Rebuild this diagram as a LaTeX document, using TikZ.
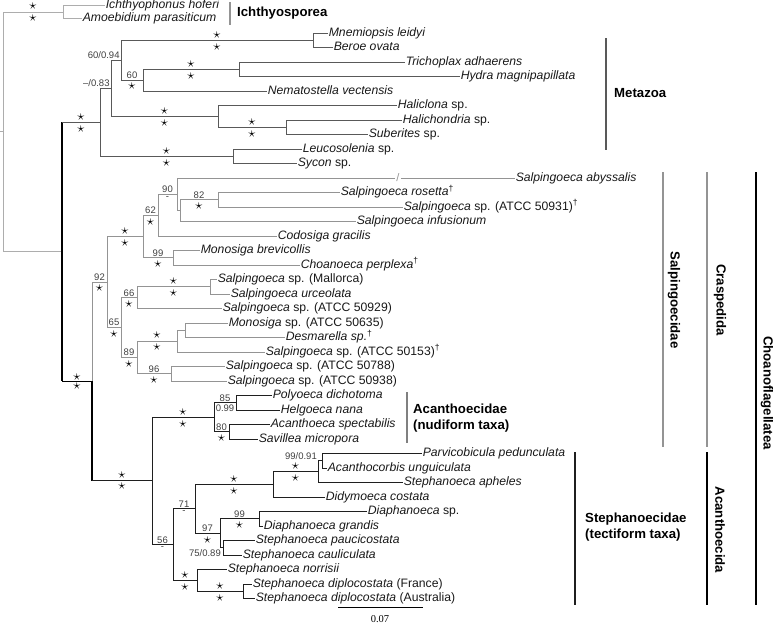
\documentclass[tikz,border=0pt]{standalone}
\usepackage{fontspec}
\setmainfont{Liberation Sans}
\newfontfamily\scalefont{Liberation Serif}
\usetikzlibrary{calc}

\definecolor{ichgray}{gray}{0.68}
\definecolor{metgray}{gray}{0.35}
\definecolor{cragray}{gray}{0.58}
\definecolor{acagray}{gray}{0.12}
\definecolor{supgray}{gray}{0.25}

\begin{document}
\begin{tikzpicture}[x=1pt, y=-1pt,
    br/.style={line width=0.9pt},
    ich/.style={br, draw=ichgray},
    met/.style={br, draw=metgray},
    cra/.style={br, draw=cragray},
    aca/.style={br, draw=acagray},
    bb/.style={line width=1.6pt, draw=black},
    leaf/.style={anchor=west, inner sep=0.6pt, text=black!90, font=\fontsize{12.2}{14}\selectfont\itshape, text height=8.7pt, text depth=2.6pt},
    sa/.style={pos=.75, yshift=5.5pt, inner sep=0pt, font=\fontsize{14}{14}\selectfont},
    sb/.style={pos=.75, yshift=-6.5pt, inner sep=0pt, font=\fontsize{14}{14}\selectfont},
    la/.style={pos=.75, anchor=south, inner sep=1pt, text=supgray, font=\fontsize{9.5}{10}\selectfont},
    lb/.style={pos=.75, anchor=north, inner sep=1.6pt, text=supgray, font=\fontsize{9.5}{10}\selectfont},
    lc/.style={pos=1, anchor=south east, inner sep=1pt, text=supgray, font=\fontsize{9.5}{10}\selectfont},
    bar/.style={line width=2.4pt},
    clade/.style={anchor=west, inner sep=0pt, align=left, font=\fontsize{13.2}{16.5}\selectfont\bfseries},
    rot/.style={rotate=-90, inner sep=0pt, font=\fontsize{13.2}{16}\selectfont\bfseries}]
\useasboundingbox (0,0) rectangle (773,624);

% internal nodes
\coordinate (root) at (3,131.8);
\coordinate (ich) at (63,12);
\coordinate (hol) at (62,251.86);
\coordinate (met) at (100,122.27);
\coordinate (m1) at (111,88.28);
\coordinate (m2) at (121,60.19);
\coordinate (cten) at (313,40.25);
\coordinate (m3) at (143,80.13);
\coordinate (cnid) at (239,69.25);
\coordinate (demo) at (218,116.38);
\coordinate (hal) at (286,127.25);
\coordinate (calc) at (233,156.25);
\coordinate (cho) at (92,381.45);
\coordinate (cra) at (107,281.99);
\coordinate (c1) at (143,236.45);
\coordinate (c2) at (158,215.16);
\coordinate (c3) at (177,194.31);
\coordinate (c3b) at (180,210.63);
\coordinate (c3c) at (218,199.75);
\coordinate (c4) at (173,257.75);
\coordinate (c5) at (121,327.53);
\coordinate (c6) at (137,297.63);
\coordinate (c7) at (210,286.75);
\coordinate (c8) at (137,357.44);
\coordinate (c9) at (177,341.13);
\coordinate (c10) at (185,330.25);
\coordinate (c11) at (171,373.75);
\coordinate (aca) at (152,480.9);
\coordinate (a1) at (214,417.25);
\coordinate (a2) at (236,402.75);
\coordinate (a3) at (229,431.75);
\coordinate (a11) at (173,544.6);
\coordinate (a7) at (195,508.8);
\coordinate (a4) at (273,484.3);
\coordinate (a5) at (318,471.6);
\coordinate (a6) at (322,460.75);
\coordinate (a8) at (220,533.25);
\coordinate (a9) at (259,518.75);
\coordinate (a10) at (223,547.75);
\coordinate (a12) at (197,580.4);
\coordinate (a13) at (243,591.25);

% leaves
\node[leaf] (ihof) at (105,5.5) {Ichthyophonus hoferi};
\node[leaf] (apar) at (82,18.5) {Amoebidium parasiticum};
\node[leaf] (mlei) at (328,33) {Mnemiopsis leidyi};
\node[leaf] (bova) at (333,47.5) {Beroe ovata};
\node[leaf] (tadh) at (405,62) {Trichoplax adhaerens};
\node[leaf] (hmag) at (460,76.5) {Hydra magnipapillata};
\node[leaf] (nvec) at (267,91) {Nematostella vectensis};
\node[leaf] (hali) at (397,105.5) {Haliclona {\upshape sp.}};
\node[leaf] (halc) at (402,120) {Halichondria {\upshape sp.}};
\node[leaf] (sube) at (368,134.5) {Suberites {\upshape sp.}};
\node[leaf] (leuc) at (302,149) {Leucosolenia {\upshape sp.}};
\node[leaf] (syco) at (297,163.5) {Sycon {\upshape sp.}};
\node[leaf] (saby) at (515,178) {Salpingoeca abyssalis};
\node[leaf] (sros) at (340,192.5) {Salpingoeca rosetta\textsuperscript{\upshape †}};
\node[leaf] (s931) at (403,207) {Salpingoeca {\upshape sp. (ATCC 50931)\textsuperscript{†}}};
\node[leaf] (sinf) at (356,221.5) {Salpingoeca infusionum};
\node[leaf] (cgra) at (277,236) {Codosiga gracilis};
\node[leaf] (mbre) at (200,250.5) {Monosiga brevicollis};
\node[leaf] (cper) at (300,265) {Choanoeca perplexa\textsuperscript{\upshape †}};
\node[leaf] (smal) at (217,279.5) {Salpingoeca {\upshape sp. (Mallorca)}};
\node[leaf] (surc) at (230,294) {Salpingoeca urceolata};
\node[leaf] (s929) at (222,308.5) {Salpingoeca {\upshape sp. (ATCC 50929)}};
\node[leaf] (m635) at (228,323) {Monosiga {\upshape sp. (ATCC 50635)}};
\node[leaf] (desm) at (285,337.5) {Desmarella sp.\textsuperscript{\upshape †}};
\node[leaf] (s153) at (265,352) {Salpingoeca {\upshape sp. (ATCC 50153)\textsuperscript{†}}};
\node[leaf] (s788) at (225,366.5) {Salpingoeca {\upshape sp. (ATCC 50788)}};
\node[leaf] (s938) at (227,381) {Salpingoeca {\upshape sp. (ATCC 50938)}};
\node[leaf] (pdic) at (272,395.5) {Polyoeca dichotoma};
\node[leaf] (hnan) at (280,410) {Helgoeca nana};
\node[leaf] (aspe) at (270,424.5) {Acanthoeca spectabilis};
\node[leaf] (smic) at (258,439) {Savillea micropora};
\node[leaf] (pped) at (422,453.5) {Parvicobicula pedunculata};
\node[leaf] (aung) at (327,468) {Acanthocorbis unguiculata};
\node[leaf] (saph) at (403,482.5) {Stephanoeca apheles};
\node[leaf] (dcos) at (325,497) {Didymoeca costata};
\node[leaf] (dsp) at (367,511.5) {Diaphanoeca {\upshape sp.}};
\node[leaf] (dgra) at (263,526) {Diaphanoeca grandis};
\node[leaf] (spau) at (255,540.5) {Stephanoeca paucicostata};
\node[leaf] (scau) at (242,555) {Stephanoeca cauliculata};
\node[leaf] (snor) at (227,569.5) {Stephanoeca norrisii};
\node[leaf] (sfra) at (252,584) {Stephanoeca diplocostata {\upshape (France)}};
\node[leaf] (saus) at (255,598.5) {Stephanoeca diplocostata {\upshape (Australia)}};

% root and Ichthyosporea
\draw[ich] (0,131.8) -- (root);
\draw[ich] (root) |- (ich) node[sa]{$\star$} node[sb]{$\star$};
\draw[ich] (root) |- (hol);
\draw[ich] (ich) |- (ihof.west);
\draw[ich] (ich) |- (apar.west);

% backbone
\draw[bb] (met -| hol) -- (cho -| hol);
\draw[bb] (cho -| hol) -- (cho) node[pos=.5, yshift=4pt, inner sep=0pt, font=\fontsize{14}{14}\selectfont]{$\star$}
  node[pos=.5, yshift=-5pt, inner sep=0pt, font=\fontsize{14}{14}\selectfont]{$\star$};

% Metazoa
\draw[met] (met -| hol) -- (met) node[pos=.5, yshift=5.5pt, inner sep=0pt, font=\fontsize{14}{14}\selectfont]{$\star$}
  node[pos=.5, yshift=-6.5pt, inner sep=0pt, font=\fontsize{14}{14}\selectfont]{$\star$};
\draw[met] (met) |- (m1) node[lc]{--/0.83};
\draw[met] (met) |- (calc) node[sa]{$\star$} node[sb]{$\star$};
\draw[met] (m1) |- (m2) node[lc]{60/0.94};
\draw[met] (m1) |- (demo) node[sa]{$\star$} node[sb]{$\star$};
\draw[met] (m2) |- (cten) node[sa]{$\star$} node[sb]{$\star$};
\draw[met] (m2) |- (m3) node[la]{60} node[sb]{$\star$};
\draw[met] (cten) |- (mlei.west);
\draw[met] (cten) |- (bova.west);
\draw[met] (m3) |- (cnid) node[sa]{$\star$} node[sb]{$\star$};
\draw[met] (m3) |- (nvec.west);
\draw[met] (cnid) |- (tadh.west);
\draw[met] (cnid) |- (hmag.west);
\draw[met] (demo) |- (hali.west);
\draw[met] (demo) |- (hal) node[sa]{$\star$} node[sb]{$\star$};
\draw[met] (hal) |- (halc.west);
\draw[met] (hal) |- (sube.west);
\draw[met] (calc) |- (leuc.west);
\draw[met] (calc) |- (syco.west);

% Craspedida
\draw[cra] (cho) |- (cra) node[la]{92} node[sb]{$\star$};
\draw[cra] (cra) |- (c1) node[sa]{$\star$} node[sb]{$\star$};
\draw[cra] (cra) |- (c5) node[la]{65} node[sb]{$\star$};
\draw[cra] (c1) |- (c2) node[la]{62} node[sb]{$\star$};
\draw[cra] (c1) |- (c4) node[la]{99} node[sb]{$\star$};
\draw[cra] (c2) |- (c3) node[la]{90} node[lb]{-};
\draw[cra] (c2) |- (cgra.west);
\node[inner sep=1.2pt, text=cragray, font=\fontsize{11}{12}\selectfont] (brk) at (398,178) {/};
\draw[cra] (c3) |- (brk.west);
\draw[cra] (brk.east) -- (saby.west);
\draw[cra] (c3) |- (c3b);
\draw[cra] (c3b) |- (c3c) node[la]{82} node[sb]{$\star$};
\draw[cra] (c3b) |- (sinf.west);
\draw[cra] (c3c) |- (sros.west);
\draw[cra] (c3c) |- (s931.west);
\draw[cra] (c4) |- (mbre.west);
\draw[cra] (c4) |- (cper.west);
\draw[cra] (c5) |- (c6) node[la]{66} node[sb]{$\star$};
\draw[cra] (c5) |- (c8) node[la]{89} node[sb]{$\star$};
\draw[cra] (c6) |- (c7) node[sa]{$\star$} node[sb]{$\star$};
\draw[cra] (c6) |- (s929.west);
\draw[cra] (c7) |- (smal.west);
\draw[cra] (c7) |- (surc.west);
\draw[cra] (c8) |- (c9) node[sa]{$\star$} node[sb]{$\star$};
\draw[cra] (c8) |- (c11) node[la]{96} node[sb]{$\star$};
\draw[cra] (c9) |- (c10);
\draw[cra] (c9) |- (s153.west);
\draw[cra] (c10) |- (m635.west);
\draw[cra] (c10) |- (desm.west);
\draw[cra] (c11) |- (s788.west);
\draw[cra] (c11) |- (s938.west);

% Acanthoecida
\draw[bb] (cho) -- (cho |- aca);
\draw[aca] (cho |- aca) -- (aca) node[pos=.5, yshift=5.5pt, inner sep=0pt, font=\fontsize{14}{14}\selectfont]{$\star$}
  node[pos=.5, yshift=-5pt, inner sep=0pt, font=\fontsize{14}{14}\selectfont]{$\star$};
\draw[aca] (aca) |- (a1) node[sa]{$\star$} node[sb]{$\star$};
\draw[aca] (aca) |- (a11) node[la]{56} node[lb]{-};
\draw[aca] (a1) |- (a2) node[la]{85} node[lb]{0.99};
\draw[aca] (a1) |- (a3) node[la]{80} node[sb]{$\star$};
\draw[aca] (a2) |- (pdic.west);
\draw[aca] (a2) |- (hnan.west);
\draw[aca] (a3) |- (aspe.west);
\draw[aca] (a3) |- (smic.west);
\draw[aca] (a11) |- (a7) node[la]{71} node[lb]{-};
\draw[aca] (a11) |- (a12) node[sa]{$\star$} node[sb]{$\star$};
\draw[aca] (a7) |- (a4) node[sa]{$\star$} node[sb]{$\star$};
\draw[aca] (a7) |- (a8) node[la]{97} node[sb]{$\star$};
\draw[aca] (a4) |- (a5) node[sa]{$\star$} node[sb]{$\star$};
\draw[aca] (a4) |- (dcos.west);
\draw[aca] (a5) |- (a6);
\draw[aca] (a5) |- (saph.west);
\node[anchor=south east, inner sep=1pt, text=supgray, font=\fontsize{9.5}{10}\selectfont] (b9991) at (a6 -| a5) {99/0.91};
\draw[aca] (a6) |- (pped.west);
\draw[aca] (a6) |- (aung.west);
\draw[aca] (a8) |- (a9) node[la]{99} node[sb]{$\star$};
\draw[aca] (a8) |- (a10);
\node[anchor=north east, inner sep=1pt, text=supgray, font=\fontsize{9.5}{10}\selectfont] (b7589) at (222,548) {75/0.89};
\draw[aca] (a9) |- (dsp.west);
\draw[aca] (a9) |- (dgra.west);
\draw[aca] (a10) |- (spau.west);
\draw[aca] (a10) |- (scau.west);
\draw[aca] (a12) |- (snor.west);
\draw[aca] (a12) |- (a13) node[sa]{$\star$} node[sb]{$\star$};
\draw[aca] (a13) |- (sfra.west);
\draw[aca] (a13) |- (saus.west);

% clade bars and names
\draw[bar, draw=cragray] (230,2) -- (230,25);
\node[clade] (lich) at (237,13.5) {Ichthyosporea};
\draw[bar, draw=metgray] (606,38) -- (606,150);
\node[clade] (lmet) at (614,93) {Metazoa};
\draw[bar, draw=gray] (407,392) -- (407,443);
\node[clade] (lnud) at (413,418) {Acanthoecidae\\(nudiform taxa)};
\draw[bar, draw=acagray] (575,452) -- (575,605);
\node[clade] (ltec) at (585,527) {Stephanoecidae\\(tectiform taxa)};
\draw[bar, draw=cragray] (663,172) -- (663,447);
\node[rot] (lsal) at (674,300) {Salpingoecidae};
\draw[bar, draw=cragray] (707,172) -- (707,447);
\node[rot] (lcra) at (720,300) {Craspedida};
\draw[bar, draw=black] (707,452) -- (707,605);
\node[rot] (lacd) at (720,530) {Acanthoecida};
\draw[bar, draw=black] (756,172) -- (756,605);
\node[rot] (lcho) at (767,393) {Choanoflagellatea};

% scale bar
\draw[line width=0.6pt] (338,607) -- (423,607);
\node[inner sep=0pt, font=\fontsize{10.5}{12}\selectfont\scalefont] (sbar) at (380,619) {0.07};
\end{tikzpicture}
\end{document}
